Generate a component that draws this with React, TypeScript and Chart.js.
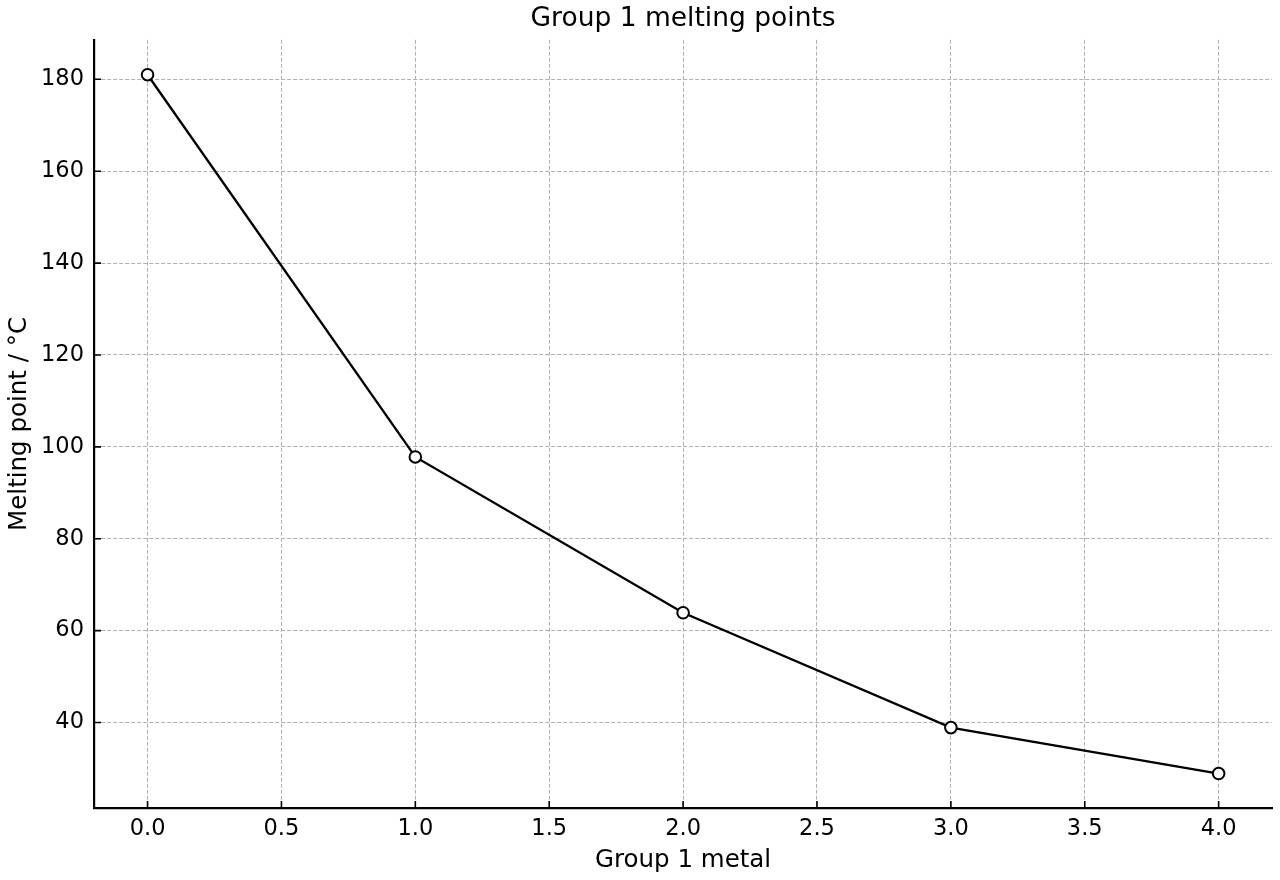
import React, { useEffect, useRef } from "react";
import { Chart, registerables } from "chart.js";

Chart.register(...registerables);

const metalIndex = [0, 1, 2, 3, 4];
const meltingPoints = [181, 97.8, 63.9, 38.9, 28.9];
const xTickStep = 0.5;
const yTickStep = 20;

const FONT = "'DejaVu Sans', sans-serif";

const inwardTicks = {
  id: "inwardTicks",
  afterDraw(chart: any) {
    const ctx = chart.ctx;
    const area = chart.chartArea;
    const xs = chart.scales.x;
    const ys = chart.scales.y;
    const len = 7;
    ctx.save();
    ctx.strokeStyle = "#000";
    ctx.lineWidth = 1.6;
    ctx.beginPath();
    xs.ticks.forEach((t: any) => {
      const px = xs.getPixelForValue(t.value);
      ctx.moveTo(px, area.bottom);
      ctx.lineTo(px, area.bottom - len);
    });
    ys.ticks.forEach((t: any) => {
      const py = ys.getPixelForValue(t.value);
      ctx.moveTo(area.left, py);
      ctx.lineTo(area.left + len, py);
    });
    ctx.stroke();
    ctx.restore();
  },
};

export default function App() {
  const ref = useRef<HTMLCanvasElement | null>(null);
  useEffect(() => {
    if (!ref.current) return;
    const chart = new Chart(ref.current, {
      type: "line",
      data: {
        datasets: [
          {
            data: metalIndex.map((x, i) => ({ x, y: meltingPoints[i] })),
            borderColor: "#000",
            borderWidth: 2.3,
            pointRadius: 5.8,
            pointBackgroundColor: "#fff",
            pointBorderColor: "#000",
            pointBorderWidth: 2,
            tension: 0,
          },
        ],
      },
      plugins: [inwardTicks],
      options: {
        animation: false,
        responsive: false,
        devicePixelRatio: 1,
        layout: { padding: { left: 0, right: 7, top: 0, bottom: 0 } },
        plugins: {
          legend: { display: false },
          tooltip: { enabled: false },
          title: {
            display: true,
            fullSize: false,
            text: "Group 1 melting points",
            color: "#000",
            font: { family: FONT, size: 26.5, weight: "normal" },
            padding: { top: 3, bottom: 5 },
          },
        },
        scales: {
          x: {
            type: "linear",
            min: -0.2,
            max: 4.2,
            afterFit(scale: any) {
              scale.height = 72;
            },
            ticks: {
              stepSize: xTickStep,
              includeBounds: false,
              color: "#000",
              padding: 8,
              font: { family: FONT, size: 22.5 },
              callback: (v: any) => Number(v).toFixed(1),
            },
            grid: {
              color: "#b0b0b0",
              lineWidth: 1,
              drawTicks: false,
            },
            border: { display: true, color: "#000", width: 2.2, dash: [4, 2] },
            title: {
              display: true,
              text: "Group 1 metal",
              color: "#000",
              font: { family: FONT, size: 24.5 },
              padding: { top: 0, bottom: 5 },
            },
          },
          y: {
            type: "linear",
            min: 21.4,
            max: 188.6,
            afterFit(scale: any) {
              scale.width = 94;
            },
            ticks: {
              stepSize: yTickStep,
              includeBounds: false,
              color: "#000",
              padding: 10,
              font: { family: FONT, size: 22.5 },
            },
            grid: {
              color: "#b0b0b0",
              lineWidth: 1,
              drawTicks: false,
            },
            border: { display: true, color: "#000", width: 2.2, dash: [4, 2] },
            title: {
              display: true,
              text: "Melting point / °C",
              color: "#000",
              font: { family: FONT, size: 24.5 },
              padding: { top: 5, bottom: 0 },
            },
          },
        },
      } as any,
    });
    return () => chart.destroy();
  }, []);
  return (
    <div style={{ position: "fixed", left: 0, top: 0, width: 1280, height: 880, background: "#fff" }}>
      <canvas ref={ref} width={1280} height={880} style={{ width: 1280, height: 880, display: "block" }} />
    </div>
  );
}
